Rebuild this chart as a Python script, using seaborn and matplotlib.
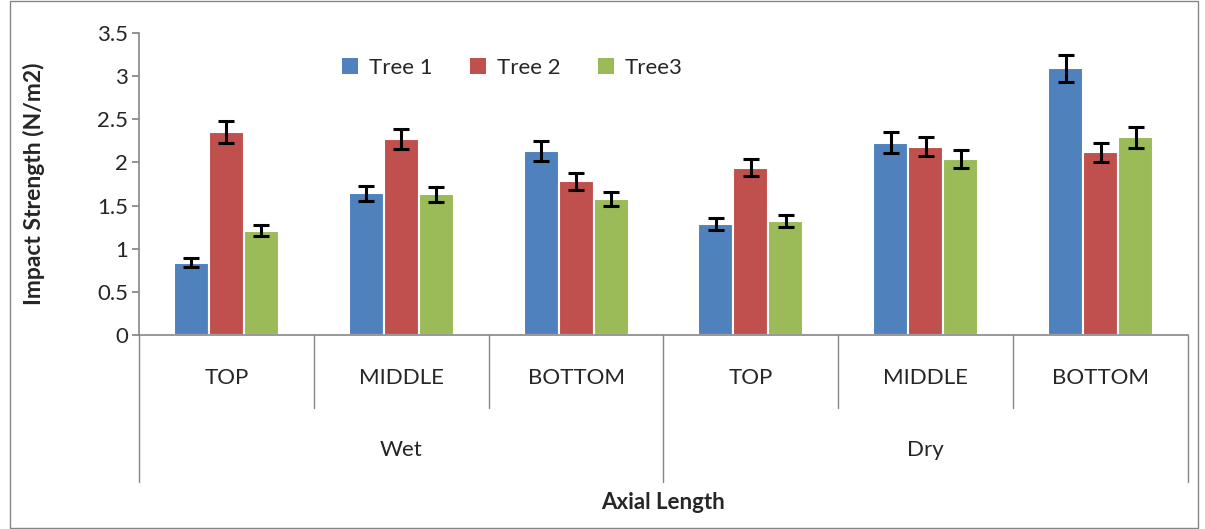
import matplotlib
matplotlib.use("Agg")
import matplotlib.pyplot as plt
import matplotlib.transforms as mtransforms
from matplotlib.patches import Patch, Rectangle
import seaborn as sns
import pandas as pd
import numpy as np

# ---- data ----
conditions = ["Wet", "Dry"]
positions = ["TOP", "MIDDLE", "BOTTOM"]
series = ["Tree 1", "Tree 2", "Tree3"]
tree1 = [0.84, 1.64, 2.13, 1.29, 2.23, 3.09]
tree2 = [2.35, 2.27, 1.78, 1.94, 2.18, 2.12]
tree3 = [1.21, 1.63, 1.58, 1.32, 2.04, 2.29]
err1 = [0.05, 0.09, 0.115, 0.07, 0.12, 0.16]
err2 = [0.125, 0.12, 0.095, 0.10, 0.11, 0.11]
err3 = [0.067, 0.09, 0.083, 0.07, 0.106, 0.12]
colors = ["#4F81BD", "#C0504D", "#9BBB59"]

sns.set_theme(style="white")
plt.rcParams["font.family"] = ["Lato", "DejaVu Sans"]

cats = [f"{c}|{p}" for c in conditions for p in positions]
rows = []
for s, vals in zip(series, [tree1, tree2, tree3]):
    for c, v in zip(cats, vals):
        rows.append({"cat": c, "tree": s, "value": v})
df = pd.DataFrame(rows)

fig = plt.figure(figsize=(12.05, 5.29), dpi=100)
ax = fig.add_axes([139/1205, 1 - 335/529, (1188-139)/1205, (335-33)/529])

sns.barplot(data=df, x="cat", y="value", hue="tree", order=cats,
            hue_order=series, palette=colors, saturation=1, width=0.6,
            errorbar=None, edgecolor="white", linewidth=1.5, ax=ax,
            legend=False)

for cont, errs in zip(ax.containers, [err1, err2, err3]):
    xs = [b.get_x() + b.get_width()/2 for b in cont]
    hs = [b.get_height() for b in cont]
    ax.errorbar(xs, hs, yerr=errs, fmt="none", ecolor="black",
                elinewidth=2.2, capsize=5.5, capthick=2.2, zorder=5)

ax.set_ylim(0, 3.5)
ax.set_xlim(-0.5, 5.5)
ax.set_yticks(np.arange(0, 3.51, 0.5))
ax.set_yticklabels(["0", "0.5", "1", "1.5", "2", "2.5", "3", "3.5"], fontsize=16)
ax.tick_params(axis="y", length=5, color="#868686", direction="out", left=True, pad=3)
ax.set_xticks([])
ax.set_xlabel("")
ax.set_ylabel("Impact Strength (N/m2)", fontsize=16.5, fontweight="bold")
ax.yaxis.set_label_coords(-0.0896, 0.5)
for s in ["top", "right"]:
    ax.spines[s].set_visible(False)
for s in ["left", "bottom"]:
    ax.spines[s].set_color("#868686")
    ax.spines[s].set_linewidth(1.2)

trans = mtransforms.blended_transform_factory(ax.transData, ax.transAxes)
n = len(cats)
for i in range(n + 1):
    xb = i - 0.5
    depth = -0.487 if i % 3 == 0 else -0.242
    ax.plot([xb, xb], [0, depth], transform=trans, color="#868686",
            lw=1.0, clip_on=False)
for i, c in enumerate(cats):
    ax.text(i, -0.142, c.split("|")[1], transform=trans, ha="center",
            va="center", fontsize=16)
for j, c in enumerate(conditions):
    ax.text(j*3 + 1, -0.381, c, transform=trans, ha="center", va="center",
            fontsize=16)
ax.text(2.5, -0.556, "Axial Length", transform=trans, ha="center",
        va="center", fontsize=16, fontweight="bold")

handles = [Patch(facecolor=col, edgecolor="none") for col in colors]
ax.legend(handles, series, loc="center", bbox_to_anchor=(0.356, 0.885),
          ncol=3, frameon=False, fontsize=16, handlelength=0.7,
          handleheight=0.7, columnspacing=1.7, handletextpad=0.5)

fig.patches.append(Rectangle((10/1205, 0.002), 1188/1205, 0.996,
                             transform=fig.transFigure, fill=False,
                             edgecolor="#868686", lw=1.0))

fig.savefig("out.png", dpi=100)
